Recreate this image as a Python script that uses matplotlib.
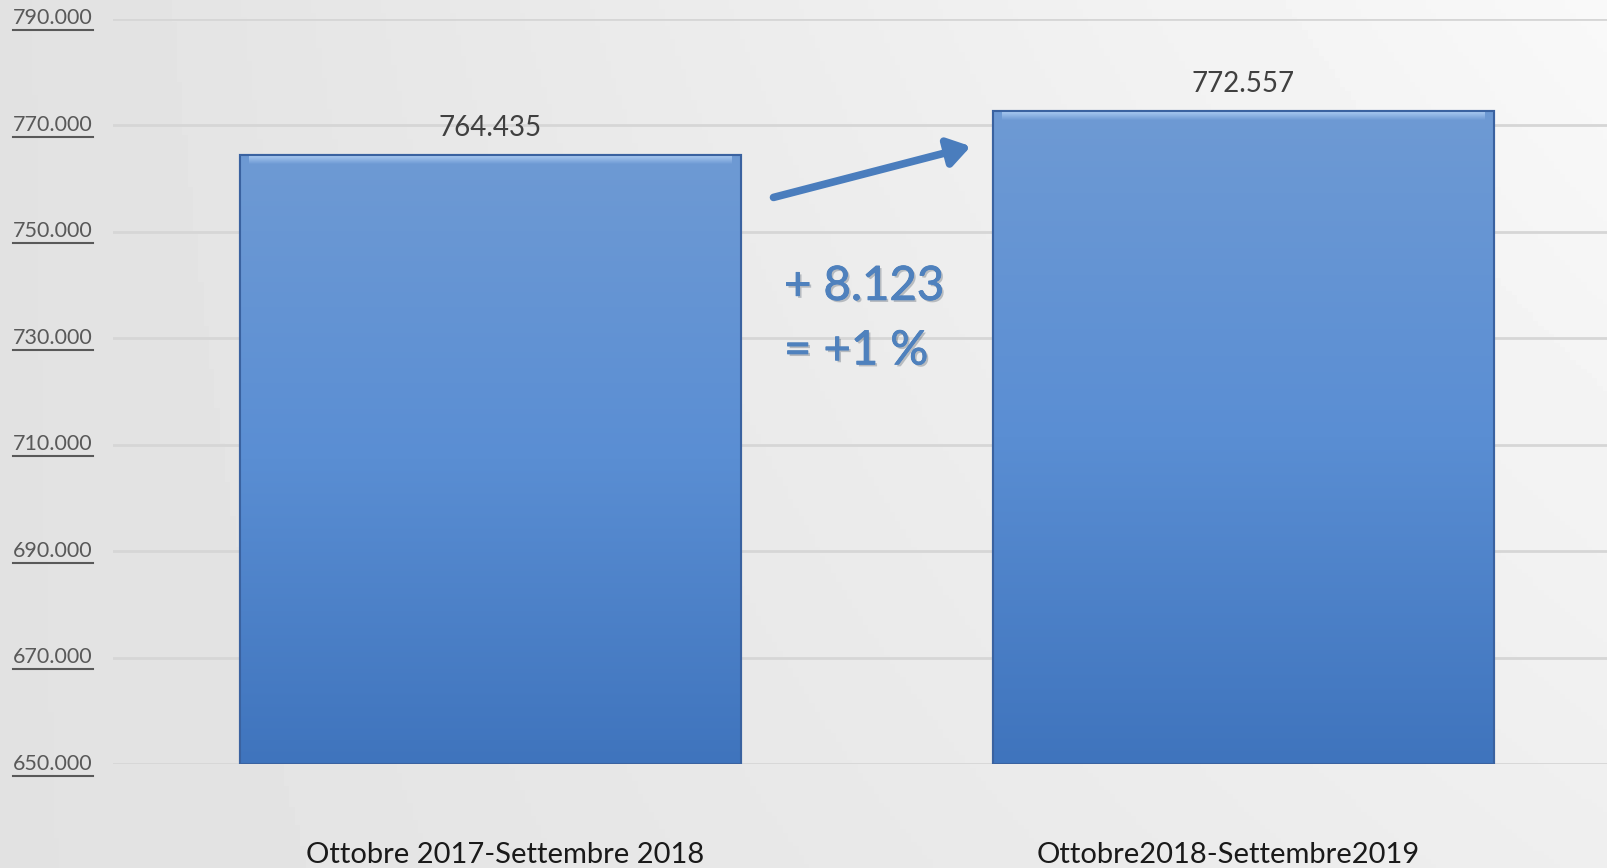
import numpy as np
import matplotlib.pyplot as plt
import matplotlib.patheffects as pe
from matplotlib.colors import LinearSegmentedColormap
from matplotlib.transforms import blended_transform_factory, ScaledTranslation

# dati
periodi = ["Ottobre 2017-Settembre 2018", "Ottobre2018-Settembre2019"]
valori = [764435, 772557]
etichette_valori = ["764.435", "772.557"]
tick_y = [650000, 670000, 690000, 710000, 730000, 750000, 770000, 790000]
tick_labels = ["650.000", "670.000", "690.000", "710.000", "730.000", "750.000", "770.000", "790.000"]
delta_text = "+ 8.123"
perc_text = "= +1 %"

plt.rcParams["font.family"] = ["Lato", "DejaVu Sans"]

fig = plt.figure(figsize=(16.08, 8.68), dpi=100)

# sfondo grigio sfumato
bg = fig.add_axes([0, 0, 1, 1], zorder=-10)
xx, yy = np.meshgrid(np.linspace(0, 1, 300), np.linspace(0, 1, 200))
shade = 0.885 + 0.05 * xx + 0.04 * xx * yy
bg.imshow(shade, cmap="gray", vmin=0, vmax=1, extent=[0, 1, 0, 1], origin="lower", aspect="auto")
bg.axis("off")

ax = fig.add_axes([113 / 1608, 104 / 868, 1 - 113 / 1608, (764 - 18.5) / 868])
ax.patch.set_alpha(0)
ax.set_ylim(650000, 790000)
ax.set_xlim(-0.501, 1.484)
for s in ax.spines.values():
    s.set_visible(False)
ax.set_yticks(tick_y)
ax.yaxis.grid(True, color="#d6d6d6", linewidth=2)
ax.set_axisbelow(True)
ax.tick_params(axis="y", length=0, labelleft=False)

x = np.arange(len(periodi))
bar_w = 0.665
bars = ax.bar(x, [v - 650000 for v in valori], bottom=650000, width=bar_w,
              color="#5b8ccf", edgecolor="#3a62a0", linewidth=1.5, zorder=2)

# gradiente sulle barre
cmap = LinearSegmentedColormap.from_list("blu", ["#3f74bd", "#5a8ed3", "#6e9ad4"])
grad = np.linspace(0, 1, 256).reshape(-1, 1)
hl = LinearSegmentedColormap.from_list("hl", ["#6e9ad4", "#b4d2f6"])
for b in bars:
    x0, y0 = b.get_x(), b.get_y()
    w, h = b.get_width(), b.get_height()
    im = ax.imshow(grad, cmap=cmap, extent=[x0, x0 + w, y0, y0 + h], origin="lower",
                   aspect="auto", zorder=2.5)
    im.set_clip_path(b)
    # bordo superiore chiaro (effetto rilievo)
    im2 = ax.imshow(grad, cmap=hl, extent=[x0 + 0.012, x0 + w - 0.012, y0 + h - 1700, y0 + h],
                    origin="lower", aspect="auto", zorder=2.7)
    im2.set_clip_path(b)
    ax.bar(x0 + w / 2, h, bottom=y0, width=w, fill=False, edgecolor="#3a62a0",
           linewidth=1.5, zorder=3.5)

for xi, v, lab in zip(x, valori, etichette_valori):
    ax.annotate(lab, (xi, v), xytext=(0, 10), textcoords="offset points",
                ha="center", va="bottom", fontsize=20, color="#404040")

# etichette asse y sottolineate
tr = blended_transform_factory(fig.transFigure, ax.transData)
ytexts = []
for yv, lab in zip(tick_y, tick_labels):
    ytexts.append(fig.text(13 / 1608, yv, lab, transform=tr, ha="left", va="center",
                           fontsize=15.5, color="#595959"))

# etichette categorie
ax.set_xticks(x)
ax.set_xticklabels(periodi, fontsize=21, color="#1a1a1a")
ax.tick_params(axis="x", length=0, pad=56)
offs = [15, -15]
for lbl, dx in zip(ax.get_xticklabels(), offs):
    lbl.set_transform(lbl.get_transform() + ScaledTranslation(dx / 100, 0, fig.dpi_scale_trans))

# freccia e testo della variazione
ax.annotate("", xy=(0.638, 766000), xytext=(0.376, 756400),
            arrowprops=dict(arrowstyle="-|>,head_length=1.3,head_width=0.85",
                            color="#4a7dbd", lw=5.5, shrinkA=0, shrinkB=0), zorder=4)
eff = [pe.withSimplePatchShadow(offset=(1.5, -1.5), alpha=0.25),
       pe.withStroke(linewidth=0.6, foreground="#4f81bd")]
ax.text(0.39, 739600, delta_text, fontsize=34, color="#4f81bd", ha="left", va="center",
        path_effects=eff)
ax.text(0.39, 727500, perc_text, fontsize=34, color="#4f81bd", ha="left", va="center",
        path_effects=eff)

# sottolineatura
fig.canvas.draw()
r = fig.canvas.get_renderer()
for t in ytexts:
    bb = t.get_window_extent(r)
    yline = (bb.y0 - 2) / fig.bbox.height
    fig.add_artist(plt.Line2D([bb.x0 / fig.bbox.width, bb.x1 / fig.bbox.width], [yline, yline],
                              color="#595959", linewidth=1.5))

fig.savefig("out.png", dpi=100)
